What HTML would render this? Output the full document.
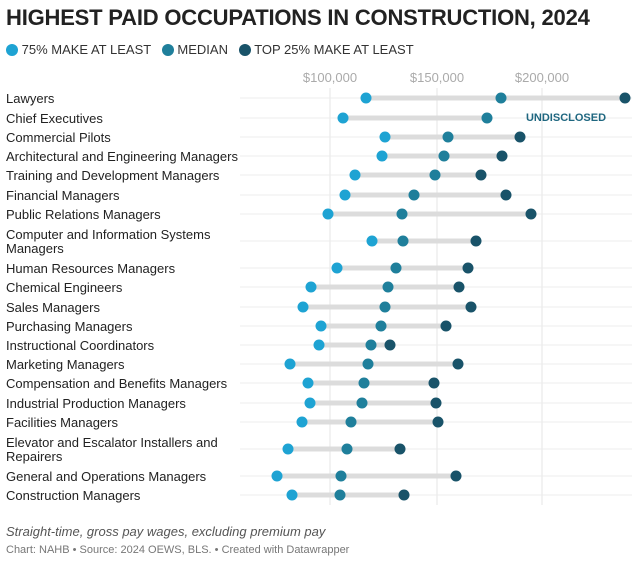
<!DOCTYPE html><html><head><meta charset="utf-8"><style>
body{margin:0;width:640px;height:563px;background:#fff;font-family:"Liberation Sans",sans-serif;position:relative;overflow:hidden}
.t{position:absolute;white-space:nowrap}
</style></head><body>
<div class="t" style="left:6px;top:5px;font-size:22px;font-weight:bold;color:#222;letter-spacing:-0.2px">HIGHEST PAID OCCUPATIONS IN CONSTRUCTION, 2024</div>
<div class="t" style="left:6px;top:42px;font-size:13px;color:#333;line-height:16px">
<span style="display:inline-block;width:12px;height:12px;border-radius:50%;background:#1ea3d3;vertical-align:-2px"></span> 75% MAKE AT LEAST &nbsp; 
<span style="display:inline-block;width:12px;height:12px;border-radius:50%;background:#1f7f9b;vertical-align:-2px"></span> MEDIAN &nbsp; 
<span style="display:inline-block;width:12px;height:12px;border-radius:50%;background:#195369;vertical-align:-2px"></span> TOP 25% MAKE AT LEAST</div>
<svg width="640" height="563" style="position:absolute;left:0;top:0" font-family="Liberation Sans, sans-serif">
<g stroke="#e6e6e6" stroke-width="1">
<line x1="330" y1="88" x2="330" y2="505"/><line x1="437" y1="88" x2="437" y2="505"/><line x1="542" y1="88" x2="542" y2="505"/>
</g>
<g fill="#aaa" font-size="13" text-anchor="middle"><text x="330" y="82">$100,000</text><text x="437" y="82">$150,000</text><text x="542" y="82">$200,000</text></g>
<g id="rows"></g>
<text x="566" y="121" font-size="11" font-weight="bold" fill="#1f6780" text-anchor="middle">UNDISCLOSED</text>
</svg>
<div id="labels"></div>
<div class="t" style="left:6px;top:524px;font-size:13px;font-style:italic;color:#555">Straight-time, gross pay wages, excluding premium pay</div>
<div class="t" style="left:6px;top:544px;font-size:11px;color:#777">Chart: NAHB • Source: 2024 OEWS, BLS. • Created with Datawrapper</div>
<script>
var d=[["Lawyers",98,366,501,625],["Chief Executives",118,343,487,0],["Commercial Pilots",137,385,448,520],["Architectural and Engineering Managers",156,382,444,502],["Training and Development Managers",175,355,435,481],["Financial Managers",195,345,414,506],["Public Relations Managers",214,328,402,531],["Computer and Information Systems<br>Managers",241,372,403,476],["Human Resources Managers",268,337,396,468],["Chemical Engineers",287,311,388,459],["Sales Managers",307,303,385,471],["Purchasing Managers",326,321,381,446],["Instructional Coordinators",345,319,371,390],["Marketing Managers",364,290,368,458],["Compensation and Benefits Managers",383,308,364,434],["Industrial Production Managers",403,310,362,436],["Facilities Managers",422,302,351,438],["Elevator and Escalator Installers and<br>Repairers",449,288,347,400],["General and Operations Managers",476,277,341,456],["Construction Managers",495,292,340,404]];
var s="",h="";
d.forEach(function(r){var y=r[1],hi=r[4]||r[3];
s+='<line x1="240" y1="'+y+'" x2="632" y2="'+y+'" stroke="#ececec"/>';
s+='<line x1="'+r[2]+'" y1="'+y+'" x2="'+hi+'" y2="'+y+'" stroke="#dcdcdc" stroke-width="5"/>';
s+='<circle cx="'+r[2]+'" cy="'+y+'" r="5.5" fill="#1ea3d3"/><circle cx="'+r[3]+'" cy="'+y+'" r="5.5" fill="#1f7f9b"/>';
if(r[4])s+='<circle cx="'+r[4]+'" cy="'+y+'" r="5.5" fill="#195369"/>';
var two=r[0].indexOf("<br>")>=0;
h+='<div class="t" style="left:6px;top:'+(y-(two?13:6))+'px;font-size:13px;line-height:14px;color:#222">'+r[0]+'</div>';});
document.getElementById("rows").innerHTML=s;document.getElementById("labels").innerHTML=h;
</script>
</body></html>
